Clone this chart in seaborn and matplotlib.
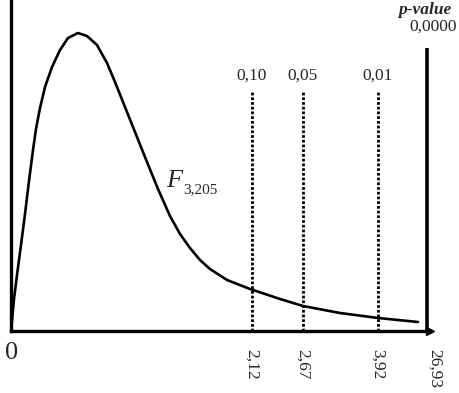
import matplotlib
matplotlib.use("Agg")
import matplotlib.pyplot as plt
import seaborn as sns
import pandas as pd

# schematic F(3,205) density (position along the axis, height)
curve_pos = [0, 1, 3, 6, 10, 14, 18, 22, 25, 29, 34, 41, 49, 57, 67, 76, 86, 96,
             104, 112, 122, 136, 147, 159, 169, 179, 189, 199, 216, 239, 269, 292,
             329, 367, 407]
curve_height = [0, 10, 32, 56, 86, 117, 150, 181, 202, 223, 244, 264, 281, 293, 298,
                295, 286, 268, 249, 229, 204, 169, 142, 115, 97, 83, 71, 62, 51, 42,
                32, 25, 18, 13, 9]

# critical values and where they sit on the schematic axis
crit_labels = ["2,12", "2,67", "3,92"]
crit_pos = [241, 292, 367]
p_labels = ["0,10", "0,05", "0,01"]
stat_label = "26,93"
stat_pos = 416
stat_p = "0,0000"

W, H = 460, 393
x0, y0 = 11, 331      # origin in the picture
x1 = 430              # end of horizontal axis

sns.set_style("white")
plt.rcParams["font.family"] = ["Liberation Serif", "DejaVu Serif"]

fig = plt.figure(figsize=(W / 100, H / 100), dpi=100)
ax = fig.add_axes([x0 / W, (H - y0) / H, (x1 - x0) / W, y0 / H])
ax.set_xlim(0, x1 - x0)
ax.set_ylim(0, y0)

df = pd.DataFrame({"pos": curve_pos, "height": curve_height})
sns.lineplot(data=df, x="pos", y="height", ax=ax, color="black", lw=1.9, sort=False)

sns.despine(ax=ax, top=True, right=True)
for side in ["left", "bottom"]:
    ax.spines[side].set_linewidth(2.4)
    ax.spines[side].set_color("black")
ax.set_xticks([])
ax.set_yticks([])
ax.set_xlabel("")
ax.set_ylabel("")
ax.plot([x1 - x0], [0], marker=">", color="black", ms=6, clip_on=False)

dot_top = 239
for lab, pos, p in zip(crit_labels, crit_pos, p_labels):
    ax.vlines(pos, 0, dot_top, colors="black", lw=2, linestyles=(0, (1, 0.7)))
    ax.text(pos, 255, p, ha="center", va="center", fontsize=12.5)
    ax.text(pos, -18, lab, ha="center", va="top", rotation=270, fontsize=12.5, clip_on=False)

ax.vlines(stat_pos, 0, 283, colors="black", lw=2.6)
ax.text(stat_pos + 8, -18, stat_label, ha="center", va="top", rotation=270, fontsize=12.5, clip_on=False)
ax.text(stat_pos + 6, 304, stat_p, ha="center", va="center", fontsize=12.5)
ax.text(stat_pos - 2, 317, "p-value", ha="center", va="baseline", fontsize=12.5,
        fontweight="bold", fontstyle="italic", clip_on=False)

ax.text(1, -11, "0", ha="center", va="top", fontsize=19, clip_on=False)

ax.text(155, 144, "F", ha="left", va="baseline", fontsize=19, fontstyle="italic")
ax.text(172, 138, "3,205", ha="left", va="baseline", fontsize=11)

fig.savefig("out.png", dpi=100)
